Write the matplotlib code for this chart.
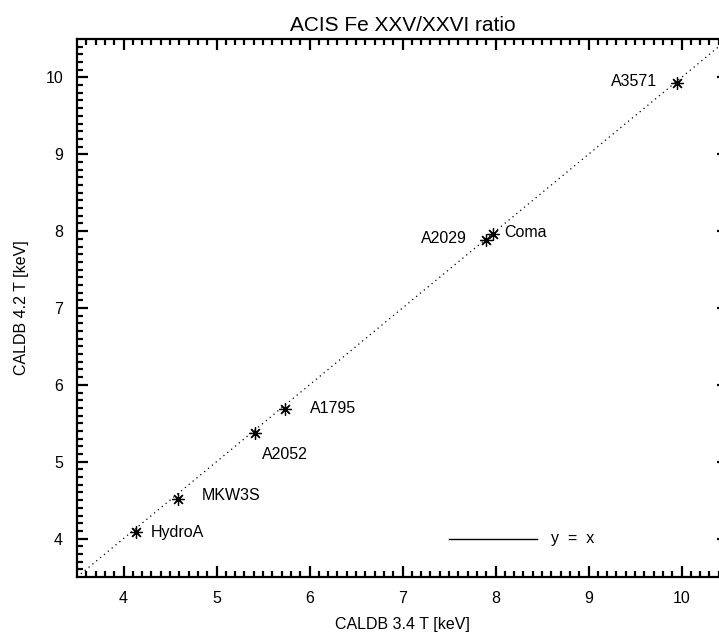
import matplotlib.pyplot as plt
import numpy as np

# cluster temperatures, CALDB 3.4 vs CALDB 4.2 (keV)
names = ['HydroA', 'MKW3S', 'A2052', 'A1795', 'A2029', 'Coma', 'A3571']
t34 = [4.13, 4.59, 5.41, 5.74, 7.90, 7.97, 9.95]
t42 = [4.08, 4.52, 5.38, 5.69, 7.88, 7.96, 9.93]
# label offsets in points
offs = [(11, 0), (17, 2), (5, -16), (18, 0), (-14, 1), (8, 1), (-14, 1)]
has = ['left', 'left', 'left', 'left', 'right', 'left', 'right']

plt.rcParams['font.family'] = ['Liberation Sans', 'DejaVu Sans']
plt.rcParams['font.size'] = 11.5

fig = plt.figure(figsize=(7.19, 6.36), dpi=100)
ax = fig.add_axes([77/719, 1-577/636, (728-77)/719, (577-39)/636])

xx = np.array([3.5, 10.5])
ax.plot(xx, xx, ls=(0, (1, 3)), color='k', lw=0.9)
ax.plot(t34, t42, ls='none', marker=(8, 2, 0), ms=9, mec='k', mew=0.9)
for n, x, y, o, h in zip(names, t34, t42, offs, has):
    ax.annotate(n, (x, y), xytext=o, textcoords='offset points',
                ha=h, va='center')

# legend drawn by hand, IDL style
ax.plot([7.5, 8.45], [4.0, 4.0], color='k', lw=1)
ax.text(8.6, 4.0, 'y  =  x', ha='left', va='center')

ax.set_xlim(3.5, 10.5)
ax.set_ylim(3.5, 10.5)
ax.set_xticks(range(4, 11))
ax.set_yticks(range(4, 11))
ax.set_xticks(np.arange(3.6, 10.5, 0.1), minor=True)
ax.set_yticks(np.arange(3.6, 10.5, 0.1), minor=True)
ax.tick_params(which='both', direction='in', top=True, right=True, width=1.6)
ax.tick_params(which='major', length=8, pad=10)
ax.tick_params(which='minor', length=4)
for s in ax.spines.values():
    s.set_linewidth(1.6)

ax.set_xlabel('CALDB 3.4 T [keV]', labelpad=8)
ax.set_ylabel('CALDB 4.2 T [keV]', labelpad=12)
ax.set_title('ACIS Fe XXV/XXVI ratio', fontsize=15, pad=6)

plt.savefig('out.png')
